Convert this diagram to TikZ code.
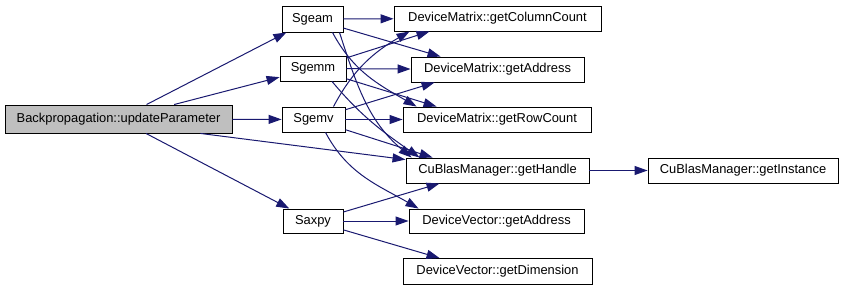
\documentclass[tikz,border=0pt]{standalone}
\usepackage{fontspec}
\setmainfont{Liberation Sans}
\usetikzlibrary{arrows.meta}
\definecolor{callblue}{HTML}{191970}

\begin{document}
\begin{tikzpicture}[x=1pt,y=-1pt,
    fn/.style={draw,line width=0.9pt,minimum height=25pt,inner sep=0pt,font=\fontsize{12.9}{15}\selectfont},
    call/.style={draw=callblue,line width=1pt,-{Triangle[length=13pt,width=9pt]}}]

\useasboundingbox (0,0) rectangle (845,291);

% caller
\node[fn,fill=black!25,minimum width=227pt,minimum height=28pt] (upd) at (118.5,119) {Backpropagation::updateParameter};

% cublas wrappers
\node[fn,minimum width=61pt,minimum height=26pt] (sgeam) at (312.5,19) {Sgeam};
\node[fn,minimum width=66pt] (sgemm) at (313,68.5) {Sgemm};
\node[fn,minimum width=63pt] (sgemv) at (313.5,119.5) {Sgemv};
\node[fn,minimum width=60pt,minimum height=24pt] (saxpy) at (313,221) {Saxpy};

% accessors
\node[fn,minimum width=207pt] (colcnt) at (497.5,18.5) {DeviceMatrix::getColumnCount};
\node[fn,minimum width=173pt] (maddr) at (497.5,69.5) {DeviceMatrix::getAddress};
\node[fn,minimum width=188pt] (rowcnt) at (497,119.5) {DeviceMatrix::getRowCount};
\node[fn,minimum width=183pt] (handle) at (497.5,170.5) {CuBlasManager::getHandle};
\node[fn,minimum width=175pt,minimum height=24pt] (vaddr) at (496.5,221) {DeviceVector::getAddress};
\node[fn,minimum width=189pt,minimum height=26pt] (vdim) at (497.5,271.5) {DeviceVector::getDimension};
\node[fn,minimum width=190pt] (inst) at (743,170.5) {CuBlasManager::getInstance};

% updateParameter
\draw[call] (upd) -- (sgeam);
\draw[call] (upd) -- (sgemm);
\draw[call] (upd) -- (sgemv);
\draw[call] (upd) -- (saxpy);
\draw[call] ([xshift=-32pt]upd.south east) -- ([yshift=-2pt]handle.north west);

% Sgeam
\draw[call] (sgeam) -- (colcnt);
\draw[call] (sgeam) -- ([xshift=30pt]maddr.north west);
\draw[call] ([xshift=20pt]sgeam.south) to[out=-62,in=150] ([xshift=14pt]rowcnt.north west);
\draw[call] ([xshift=27pt]sgeam.south) to[out=-72,in=140] ([xshift=6pt]handle.north west);

% Sgemm
\draw[call] (sgemm) -- ([xshift=36pt]colcnt.south west);
\draw[call] (sgemm) -- (maddr);
\draw[call] (sgemm) -- ([xshift=34pt]rowcnt.north west);
\draw[call] ([xshift=19pt]sgemm.south) to[out=-50,in=145] ([xshift=14pt]handle.north west);

% Sgemv
\draw[call] ([xshift=20pt]sgemv.north) to[out=62,in=-150] ([xshift=16pt]colcnt.south west);
\draw[call] (sgemv) -- ([xshift=24pt]maddr.south west);
\draw[call] (sgemv) -- (rowcnt);
\draw[call] (sgemv) -- ([xshift=27pt]handle.north west);
\draw[call] ([xshift=12pt]sgemv.south) to[out=-62,in=150] ([xshift=10pt]vaddr.north west);

% Saxpy
\draw[call] (saxpy) -- ([xshift=34pt]handle.south west);
\draw[call] (saxpy) -- (vaddr);
\draw[call] (saxpy) -- ([xshift=37pt]vdim.north west);

\draw[call] (handle) -- (inst);

\end{tikzpicture}
\end{document}
